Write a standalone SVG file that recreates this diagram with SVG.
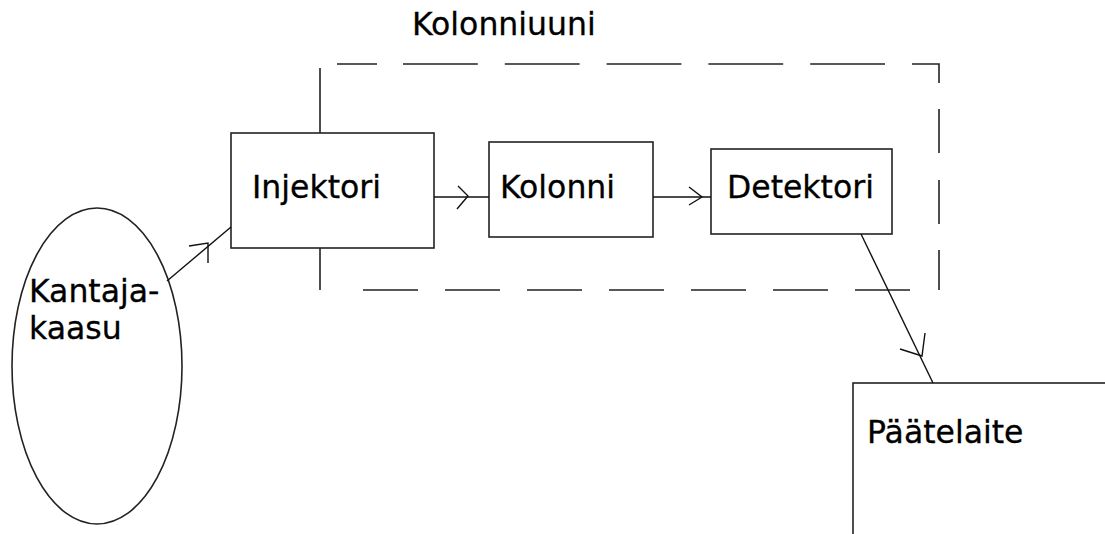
<svg xmlns="http://www.w3.org/2000/svg" width="1105" height="534" viewBox="0 0 1105 534">
  <style>
    .box { fill: #ffffff; stroke: #222222; stroke-width: 1.6; }
    .frame { fill: none; stroke: #222222; stroke-width: 1.6; }
    .wire { fill: none; stroke: #111111; stroke-width: 1.4; }
    .label { font-family: "DejaVu Sans", "Liberation Sans", sans-serif; font-size: 31.5px; fill: #000000; stroke: #000000; stroke-width: 0.3; }
  </style>

  <!-- dashed column oven outline, one path per side -->
  <g id="kolonniuuni">
    <path class="frame" d="M320,68 L320,290"/>
    <path class="frame" d="M337,64 L377,64 M403,64 L885,64" stroke-dasharray="74.8 27"/>
    <path class="frame" d="M912,64 L939,64 L939,83 M939,109 L939,153 M939,180 L939,224 M939,250 L939,290"/>
    <path class="frame" d="M910,290 L343,290" stroke-dasharray="55 27"/>
    <text class="label" x="412" y="35">Kolonniuuni</text>
  </g>

  <g id="kantajakaasu">
    <ellipse class="frame" cx="97" cy="366" rx="85" ry="158"/>
    <text class="label" x="29" y="302">Kantaja-</text>
    <text class="label" x="29" y="339">kaasu</text>
  </g>

  <g id="injektori">
    <rect class="box" x="231" y="133" width="203" height="115"/>
    <text class="label" x="252" y="198">Injektori</text>
  </g>

  <g id="kolonni">
    <rect class="box" x="489" y="142" width="164" height="95"/>
    <text class="label" x="500" y="198">Kolonni</text>
  </g>

  <g id="detektori">
    <rect class="box" x="711" y="149" width="181" height="85"/>
    <text class="label" x="727" y="198">Detektori</text>
  </g>

  <g id="paatelaite">
    <rect class="box" x="853" y="383" width="300" height="200"/>
    <text class="label" x="867" y="443">Päätelaite</text>
  </g>

  <!-- connectors with open arrowheads at mid-length -->
  <g id="connectors">
    <line class="wire" x1="167" y1="281" x2="231" y2="227"/>
    <polyline class="wire" points="189,246 208,243 208,263"/>

    <line class="wire" x1="434" y1="197" x2="489" y2="197"/>
    <polyline class="wire" points="458,186 468,196 457,209"/>

    <line class="wire" x1="653" y1="197" x2="711" y2="197"/>
    <polyline class="wire" points="689,187 702,197 689,205"/>

    <line class="wire" x1="861" y1="234" x2="933" y2="383"/>
    <polyline class="wire" points="900,349 922,356 925,333"/>
  </g>
</svg>
